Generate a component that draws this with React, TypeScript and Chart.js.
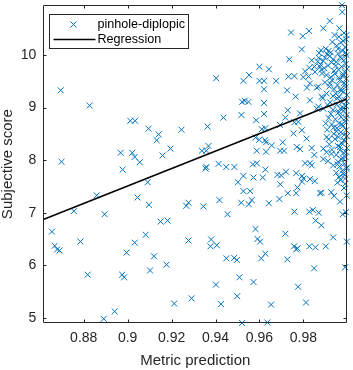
import React, { useEffect, useRef } from 'react';
import { Chart, registerables } from 'chart.js';

Chart.register(...registerables);

const FONT = '"Liberation Sans", Arial, Helvetica, sans-serif';
const AXIS_COLOR = '#262626';
const POINT_COLOR = '#0072BD';

const seriesLabel = 'pinhole-diplopic';
const lineLabel = 'Regression';
const xTitle = 'Metric prediction';
const yTitle = 'Subjective score';

const xTicks = [0.88, 0.9, 0.92, 0.94, 0.96, 0.98];
const xTickLabels = ['0.88', '0.9', '0.92', '0.94', '0.96', '0.98'];
const yTicks = [5, 6, 7, 8, 9, 10];
const yTickLabels = ['5', '6', '7', '8', '9', '10'];

const xMin = 0.8616;
const xMax = 1.0;
const yMin = 4.9;
const yMax = 10.95;

const regX = [0.8616, 1.0];
const regY = [6.87, 9.17];

// sparse left / middle points
const metricA = [
  0.8695, 0.8699, 0.8827, 0.8968, 0.8977, 0.9012, 0.9034, 0.9021, 0.9032, 0.9055,
  0.9095, 0.9141, 0.9132, 0.9159, 0.9195, 0.9245, 0.9364, 0.9403, 0.9338, 0.9358,
  0.9368, 0.9358, 0.9355, 0.9414, 0.9091, 0.8655, 0.8668, 0.8679, 0.8690, 0.8755,
  0.8785, 0.8818, 0.8859, 0.8895, 0.8891, 0.8941, 0.8975, 0.8984, 0.8995, 0.9032,
  0.9045, 0.9082, 0.9097, 0.9102, 0.9120, 0.9150, 0.9182, 0.9177, 0.9212, 0.9277,
  0.9267, 0.9345, 0.9418, 0.9277, 0.9380, 0.9377, 0.9406, 0.9402, 0.9291, 0.9425,
];
const subjectiveA = [
  9.33, 7.97, 9.04, 8.14, 7.82, 8.75, 8.75, 8.14, 8.06, 7.96,
  8.60, 8.49, 8.38, 8.09, 8.22, 8.58, 8.64, 9.56, 8.18, 8.18,
  8.27, 7.87, 7.84, 7.93, 7.58, 6.64, 6.37, 6.30, 6.28, 7.03,
  6.45, 5.82, 7.33, 6.97, 4.98, 5.12, 5.82, 5.77, 6.24, 6.43,
  7.29, 6.58, 7.15, 5.90, 6.17, 6.83, 6.85, 6.01, 5.27, 7.19,
  7.13, 7.12, 7.24, 6.47, 6.49, 6.36, 6.38, 5.63, 5.37, 5.26,
];

// lower right region
const metricB = [
  0.9502, 0.9527, 0.9558, 0.9565, 0.9552, 0.9517, 0.9643, 0.9691, 0.9695, 0.9729,
  0.9767, 0.9773, 0.9794, 0.9852, 0.9882, 0.9927, 0.9940, 0.9955, 0.9985, 0.9997,
  0.9455, 0.9759, 0.9827, 0.9843, 0.9870, 0.9856, 0.9882, 0.9979, 0.9993, 0.9582,
  0.9591, 0.9603, 0.9718, 0.9758, 0.9767, 0.9773, 0.9827, 0.9855, 0.9902, 0.9936,
  0.9998, 0.9449, 0.9485, 0.9497, 0.9608, 0.9627, 0.9727, 0.9849, 0.9990, 0.9509,
  0.9573, 0.9776, 0.9499, 0.9653, 0.9812, 0.9521, 0.9636,
];
const subjectiveB = [
  7.58, 7.41, 7.41, 7.24, 7.16, 7.19, 7.18, 7.26, 7.54, 7.37,
  7.37, 7.48, 7.59, 7.60, 7.38, 7.39, 7.32, 7.57, 7.47, 7.33,
  6.97, 7.02, 7.02, 7.05, 7.00, 6.85, 6.76, 6.97, 7.01, 6.69,
  6.50, 6.45, 6.60, 6.36, 6.30, 6.32, 6.36, 6.34, 6.36, 6.53,
  6.45, 6.13, 6.14, 6.10, 6.13, 6.22, 6.11, 5.94, 5.96, 5.77,
  5.68, 5.59, 5.41, 5.25, 5.29, 4.90, 4.91,
];

// upper middle region
const metricC = [
  0.9600, 0.9643, 0.9527, 0.9553, 0.9600, 0.9621, 0.9676, 0.9621, 0.9726, 0.9732,
  0.9759, 0.9765, 0.9521, 0.9533, 0.9550, 0.9621, 0.9436, 0.9518, 0.9621, 0.9585,
  0.9694, 0.9718, 0.9611, 0.9627, 0.9582, 0.9599, 0.9626, 0.9630, 0.9656, 0.9706,
  0.9694, 0.9712, 0.9588, 0.9449, 0.9486, 0.9570, 0.9588, 0.9627, 0.9527, 0.9573,
  0.9615, 0.9682, 0.9699, 0.9721, 0.9630,
];
const subjectiveC = [
  9.78, 9.73, 9.51, 9.62, 9.51, 9.51, 9.51, 9.35, 9.33, 9.59,
  9.60, 9.21, 9.11, 9.13, 9.11, 9.09, 8.81, 8.86, 8.88, 8.76,
  8.67, 8.81, 8.59, 8.61, 8.43, 8.39, 8.38, 8.34, 8.28, 8.34,
  8.18, 8.18, 8.18, 7.87, 7.87, 7.92, 7.94, 7.82, 7.70, 7.67,
  7.67, 7.72, 7.71, 7.78, 8.16,
];

// upper right region
const metricD = [
  0.9736, 0.9744, 0.9797, 0.9826, 0.9793, 0.9891, 0.9920, 0.9964, 0.9976, 0.9977,
  0.9808, 0.9823, 0.9838, 0.9816, 0.9850, 0.9868, 0.9830, 0.9888, 0.9861, 0.9759,
  0.9729, 0.9770, 0.9785, 0.9755, 0.9793, 0.9808, 0.9830, 0.9850, 0.9767, 0.9794,
  0.9785, 0.9777, 0.9891, 0.9815, 0.9838, 0.9891, 0.9906, 0.9838, 0.9891, 0.9936,
  0.9800, 0.9830, 0.9876, 0.9967, 0.9990, 0.9827, 0.9853, 0.9876, 0.9800, 0.9830,
  0.9861, 0.9884, 0.9868, 0.9921, 0.9906,
];
const subjectiveD = [
  9.92, 10.43, 10.36, 10.46, 10.11, 10.51, 10.65, 10.51, 10.95, 10.82,
  9.69, 9.59, 9.90, 9.38, 9.78, 9.40, 9.14, 9.18, 8.98, 8.72,
  8.95, 8.25, 8.21, 8.51, 8.57, 7.94, 7.94, 8.10, 7.75, 7.70,
  8.89, 8.73, 8.98, 8.41, 8.23, 8.22, 8.44, 7.90, 8.02, 7.90,
  7.65, 7.64, 7.37, 7.21, 7.65, 9.76, 9.68, 9.78, 9.58, 9.46,
  9.38, 9.21, 9.02, 9.46, 9.27,
];

// dense cluster near the right edge
const metricE = [
  0.9880, 0.9902, 0.9891, 0.9920, 0.9870, 0.9912, 0.9935, 0.9895, 0.9925, 0.9885,
  0.9908, 0.9878,
  0.9985, 0.9962, 0.9995, 0.9971, 0.9952, 0.9990, 0.9978, 0.9958, 0.9997, 0.9968,
  0.9984, 0.9950, 0.9993, 0.9974, 0.9960, 0.9988, 0.9945, 0.9979, 0.9996, 0.9965,
  0.9985, 0.9955, 0.9992, 0.9970, 0.9982, 0.9948, 0.9998, 0.9963, 0.9987, 0.9975,
  0.9952, 0.9994, 0.9968, 0.9983, 0.9958, 0.9997, 0.9972, 0.9946, 0.9989, 0.9962,
  0.9980, 0.9953, 0.9995, 0.9970, 0.9986, 0.9960, 0.9944, 0.9991, 0.9975, 0.9957,
  0.9998, 0.9966, 0.9983, 0.9950, 0.9992, 0.9972, 0.9958, 0.9987, 0.9965, 0.9996,
  0.9977, 0.9950, 0.9988, 0.9962,
  0.9922, 0.9935, 0.9915, 0.9930, 0.9908, 0.9938, 0.9918, 0.9928, 0.9912, 0.9940,
  0.9925, 0.9940, 0.9932, 0.9942,
];
const subjectiveE = [
  10.09, 10.12, 9.89, 9.98, 9.95, 9.80, 9.92, 9.75, 10.05, 9.65,
  10.02, 9.82,
  10.42, 10.35, 10.30, 10.24, 10.18, 10.15, 10.08, 10.03, 10.00, 9.96,
  9.90, 9.87, 9.83, 9.78, 9.72, 9.68, 9.64, 9.60, 9.55, 9.52,
  9.47, 9.43, 9.39, 9.35, 9.30, 9.27, 9.24, 9.20, 9.15, 9.10,
  9.06, 9.03, 8.98, 8.94, 8.90, 8.86, 8.82, 8.78, 8.74, 8.70,
  8.65, 8.61, 8.57, 8.53, 8.48, 8.44, 8.40, 8.36, 8.32, 8.27,
  8.23, 8.19, 8.14, 8.10, 8.06, 8.02, 7.97, 7.93, 7.88, 7.84,
  7.80, 7.76, 7.72, 7.68,
  9.10, 8.96, 8.80, 8.68, 8.58, 8.50, 8.30, 8.12, 7.98, 9.35,
  9.58, 9.70, 10.25, 10.38,
];

// further overlapping points in the dense right-edge strip
const metricF = [
  0.9996, 0.9981, 0.9958, 0.9992, 0.9974, 0.9948, 0.9999, 0.9983, 0.9961, 0.9990,
  0.9972, 0.9954, 0.9998, 0.9980, 0.9963, 0.9993, 0.9976, 0.9951, 0.9999, 0.9984,
  0.9967, 0.9994, 0.9979, 0.9955, 0.9999, 0.9982, 0.9969, 0.9990,
  0.9872, 0.9898, 0.9915, 0.9882, 0.9928, 0.9866, 0.9905, 0.9930, 0.9918, 0.9898,
  0.9935, 0.9910, 0.9925, 0.9902, 0.9938, 0.9915, 0.9930, 0.9905,
];
const subjectiveF = [
  10.38, 10.27, 10.12, 10.05, 9.93, 9.80, 9.74, 9.63, 9.57, 9.44,
  9.32, 9.18, 9.12, 9.00, 8.92, 8.80, 8.68, 8.55, 8.46, 8.38,
  8.25, 8.16, 8.04, 7.92, 7.86, 7.74, 7.62, 7.55,
  10.04, 9.95, 10.08, 9.72, 9.86, 9.88, 9.62, 9.52, 9.40, 9.48,
  9.22, 9.05, 8.88, 8.70, 8.62, 8.40, 8.20, 8.15,
];

const metric = [...metricA, ...metricB, ...metricC, ...metricD, ...metricE, ...metricF];
const subjective = [
  ...subjectiveA, ...subjectiveB, ...subjectiveC, ...subjectiveD, ...subjectiveE, ...subjectiveF,
];

const framePlugin = {
  id: 'matlabFrame',
  afterDatasetsDraw(chart: any) {
    const { ctx, chartArea: a, scales } = chart;
    const x = scales.x;
    const y = scales.y;
    ctx.save();
    ctx.strokeStyle = AXIS_COLOR;
    ctx.lineWidth = 1;
    const L = Math.round(a.left) + 0.5;
    const R = Math.round(a.right) - 0.5;
    const T = Math.round(a.top) + 0.5;
    const B = Math.round(a.bottom) - 0.5;
    ctx.beginPath();
    ctx.rect(L, T, R - L, B - T);
    const tl = 3;
    xTicks.forEach((v) => {
      const px = Math.round(x.getPixelForValue(v)) + 0.5;
      ctx.moveTo(px, B);
      ctx.lineTo(px, B - tl);
      ctx.moveTo(px, T);
      ctx.lineTo(px, T + tl);
    });
    yTicks.forEach((v) => {
      const py = Math.round(y.getPixelForValue(v)) + 0.5;
      ctx.moveTo(L, py);
      ctx.lineTo(L + tl, py);
      ctx.moveTo(R, py);
      ctx.lineTo(R - tl, py);
    });
    ctx.stroke();

    // legend (MATLAB northwest style)
    const bx = L + 6;
    const by = T + 9;
    const bw = 139;
    const bh = 34;
    ctx.fillStyle = '#ffffff';
    ctx.fillRect(bx, by, bw, bh);
    ctx.strokeStyle = AXIS_COLOR;
    ctx.strokeRect(bx, by, bw, bh);

    const row1 = by + 10;
    const row2 = by + 25;
    const mx = bx + 24;
    const r = 3;
    ctx.strokeStyle = POINT_COLOR;
    ctx.lineWidth = 1;
    ctx.beginPath();
    ctx.moveTo(mx - r, row1 - r);
    ctx.lineTo(mx + r, row1 + r);
    ctx.moveTo(mx - r, row1 + r);
    ctx.lineTo(mx + r, row1 - r);
    ctx.stroke();
    ctx.strokeStyle = '#000000';
    ctx.lineWidth = 1.5;
    ctx.beginPath();
    ctx.moveTo(bx + 4, row2);
    ctx.lineTo(bx + 46, row2);
    ctx.stroke();

    ctx.fillStyle = '#000000';
    ctx.font = '12.6px ' + FONT;
    ctx.textBaseline = 'middle';
    ctx.textAlign = 'left';
    ctx.fillText(seriesLabel, bx + 48, row1);
    ctx.fillText(lineLabel, bx + 48, row2);
    ctx.restore();
  },
};

export default function App() {
  const ref = useRef<HTMLCanvasElement>(null);

  useEffect(() => {
    document.body.style.margin = '0';
    const canvas = ref.current;
    if (!canvas) return;
    const points = metric.map((m, i) => ({ x: m, y: subjective[i] }));
    const reg = regX.map((v, i) => ({ x: v, y: regY[i] }));
    const chart = new Chart(canvas, {
      type: 'scatter',
      data: {
        datasets: [
          {
            label: lineLabel,
            data: reg,
            showLine: true,
            borderColor: '#000000',
            borderWidth: 1.5,
            pointRadius: 0,
            order: 0,
          } as any,
          {
            label: seriesLabel,
            data: points,
            pointStyle: 'crossRot',
            pointRadius: 4.2,
            pointBorderWidth: 1,
            pointBorderColor: POINT_COLOR,
            pointBackgroundColor: 'rgba(0,0,0,0)',
            clip: false,
            order: 1,
          } as any,
        ],
      },
      options: {
        animation: false,
        responsive: false,
        maintainAspectRatio: false,
        layout: { padding: { top: 5, right: 5.7, left: 0, bottom: 0 } },
        plugins: { legend: { display: false }, tooltip: { enabled: false } },
        scales: {
          x: {
            type: 'linear',
            min: xMin,
            max: xMax,
            grid: { display: false, drawTicks: false },
            border: { display: false },
            afterBuildTicks: (s: any) => {
              s.ticks = xTicks.map((v) => ({ value: v }));
            },
            afterFit: (s: any) => {
              s.height = 47;
              s.paddingLeft = 0;
              s.paddingRight = 0;
              s.paddingTop = 0;
              s.paddingBottom = 0;
            },
            ticks: {
              padding: 7,
              autoSkip: false,
              maxRotation: 0,
              color: AXIS_COLOR,
              font: { family: FONT, size: 14 },
              callback: (_v: any, i: number) => xTickLabels[i],
            },
            title: {
              display: true,
              text: xTitle,
              color: AXIS_COLOR,
              font: { family: FONT, size: 15 },
              padding: { top: 0, bottom: 0 },
            },
          },
          y: {
            type: 'linear',
            min: yMin,
            max: yMax,
            grid: { display: false, drawTicks: false },
            border: { display: false },
            afterBuildTicks: (s: any) => {
              s.ticks = yTicks.map((v) => ({ value: v }));
            },
            afterFit: (s: any) => {
              s.width = 43.3;
              s.paddingLeft = 0;
              s.paddingRight = 0;
              s.paddingTop = 0;
              s.paddingBottom = 0;
            },
            ticks: {
              padding: 7,
              autoSkip: false,
              color: AXIS_COLOR,
              font: { family: FONT, size: 14 },
              callback: (_v: any, i: number) => yTickLabels[i],
            },
            title: {
              display: true,
              text: yTitle,
              color: AXIS_COLOR,
              font: { family: FONT, size: 15, lineHeight: 1.1 },
              padding: { top: 0, bottom: 0 },
            },
          },
        },
      } as any,
      plugins: [framePlugin],
    });
    return () => chart.destroy();
  }, []);

  return (
    <div style={{ width: 353, height: 370 }}>
      <canvas ref={ref} width={353} height={370} style={{ display: 'block' }} />
    </div>
  );
}
